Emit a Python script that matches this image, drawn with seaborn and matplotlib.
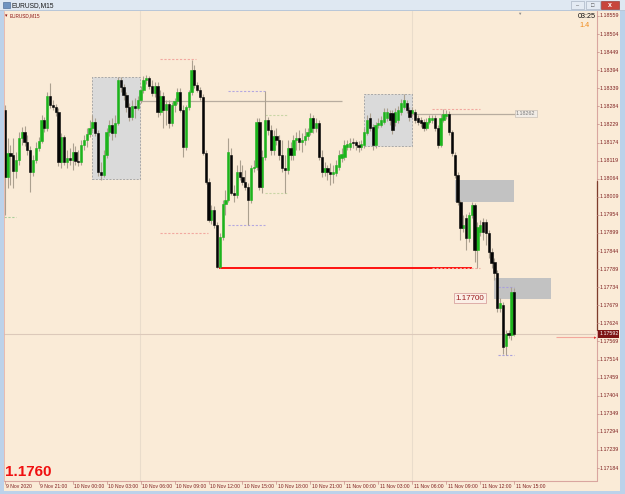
import numpy as np
import matplotlib
matplotlib.use("Agg")
import matplotlib.pyplot as plt
import matplotlib.transforms as mtransforms
from matplotlib.patches import Rectangle
import seaborn as sns

# ---------------- data (EURUSD M15) ----------------
opens = [
    1.18273, 1.18069, 1.18142, 1.18136, 1.18087, 1.18121, 1.18188, 1.18206, 1.18176, 1.18151,
    1.18084, 1.18121, 1.18157, 1.18179, 1.18243, 1.18218, 1.18316, 1.18288, 1.18282, 1.18267,
    1.18115, 1.18191, 1.18115, 1.18127, 1.18121, 1.18145, 1.18118, 1.18115, 1.18167, 1.18182,
    1.18200, 1.18218, 1.18237, 1.18203, 1.18084, 1.18075, 1.18136, 1.18206, 1.18227, 1.18203,
    1.18234, 1.18364, 1.18343, 1.18319, 1.18282, 1.18252, 1.18285, 1.18279, 1.18303, 1.18334,
    1.18364, 1.18370, 1.18346, 1.18325, 1.18346, 1.18267, 1.18316, 1.18273, 1.18291, 1.18234,
    1.18288, 1.18300, 1.18328, 1.18273, 1.18160, 1.18282, 1.18328, 1.18395, 1.18349, 1.18334,
    1.18313, 1.18142, 1.18054, 1.17938, 1.17969, 1.17923, 1.17795, 1.17887, 1.17987, 1.17999,
    1.18136, 1.18021, 1.18015, 1.18084, 1.18069, 1.18054, 1.18039, 1.17999, 1.18097, 1.18100,
    1.18237, 1.18039, 1.18130, 1.18243, 1.18212, 1.18151, 1.18194, 1.18182, 1.18136, 1.18097,
    1.18091, 1.18157, 1.18136, 1.18182, 1.18188, 1.18176, 1.18182, 1.18194, 1.18206, 1.18249,
    1.18218, 1.18234, 1.18130, 1.18084, 1.18097, 1.18084, 1.18078, 1.18081, 1.18100, 1.18127,
    1.18130, 1.18160, 1.18160, 1.18176, 1.18176, 1.18167, 1.18160, 1.18167, 1.18203, 1.18249,
    1.18221, 1.18167, 1.18227, 1.18227, 1.18237, 1.18249, 1.18264, 1.18264, 1.18237, 1.18243,
    1.18267, 1.18282, 1.18294, 1.18273, 1.18264, 1.18267, 1.18249, 1.18243, 1.18237, 1.18218,
    1.18237, 1.18243, 1.18249, 1.18218, 1.18167, 1.18243, 1.18255, 1.18261, 1.18206, 1.18136,
    1.18075, 1.17993, 1.17914, 1.17945, 1.17884, 1.17954, 1.17984, 1.17847, 1.17902, 1.17932,
    1.17932, 1.17899, 1.17841, 1.17811, 1.17777, 1.17671, 1.17680, 1.17555, 1.17595, 1.17589,
    1.17719,
]
highs = [
    1.18288, 1.18188, 1.18167, 1.18188, 1.18145, 1.18206, 1.18221, 1.18224, 1.18197, 1.18164,
    1.18136, 1.18176, 1.18191, 1.18258, 1.18252, 1.18328, 1.18355, 1.18303, 1.18291, 1.18279,
    1.18203, 1.18197, 1.18151, 1.18157, 1.18173, 1.18164, 1.18151, 1.18182, 1.18197, 1.18218,
    1.18243, 1.18258, 1.18249, 1.18212, 1.18115, 1.18151, 1.18218, 1.18243, 1.18249, 1.18258,
    1.18373, 1.18373, 1.18352, 1.18328, 1.18294, 1.18303, 1.18310, 1.18316, 1.18346, 1.18376,
    1.18380, 1.18376, 1.18364, 1.18358, 1.18358, 1.18334, 1.18328, 1.18303, 1.18303, 1.18297,
    1.18310, 1.18340, 1.18340, 1.18288, 1.18288, 1.18334, 1.18425, 1.18410, 1.18358, 1.18343,
    1.18322, 1.18151, 1.18066, 1.17984, 1.17981, 1.17932, 1.17899, 1.17999, 1.18030, 1.18188,
    1.18157, 1.18045, 1.18106, 1.18121, 1.18106, 1.18091, 1.18051, 1.18106, 1.18121, 1.18249,
    1.18249, 1.18151, 1.18331, 1.18252, 1.18227, 1.18212, 1.18218, 1.18197, 1.18182, 1.18136,
    1.18182, 1.18176, 1.18197, 1.18206, 1.18212, 1.18203, 1.18218, 1.18218, 1.18264, 1.18258,
    1.18249, 1.18243, 1.18151, 1.18115, 1.18106, 1.18112, 1.18106, 1.18121, 1.18151, 1.18157,
    1.18182, 1.18182, 1.18188, 1.18188, 1.18182, 1.18179, 1.18182, 1.18218, 1.18258, 1.18264,
    1.18230, 1.18237, 1.18249, 1.18255, 1.18279, 1.18279, 1.18273, 1.18273, 1.18279, 1.18285,
    1.18307, 1.18322, 1.18303, 1.18282, 1.18282, 1.18276, 1.18258, 1.18252, 1.18246, 1.18249,
    1.18258, 1.18258, 1.18258, 1.18227, 1.18261, 1.18276, 1.18273, 1.18270, 1.18212, 1.18145,
    1.18084, 1.17999, 1.17954, 1.17957, 1.17963, 1.17993, 1.17990, 1.17932, 1.17938, 1.17945,
    1.17942, 1.17908, 1.17853, 1.17823, 1.17786, 1.17701, 1.17689, 1.17604, 1.17604, 1.17735,
    1.17732,
]
lows = [
    1.17954, 1.18036, 1.18045, 1.18036, 1.18066, 1.18106, 1.18167, 1.18164, 1.18136, 1.18024,
    1.18072, 1.18112, 1.18148, 1.18173, 1.18206, 1.18209, 1.18279, 1.18273, 1.18255, 1.18103,
    1.18097, 1.18106, 1.18097, 1.18106, 1.18091, 1.18106, 1.18103, 1.18106, 1.18151, 1.18160,
    1.18191, 1.18209, 1.18194, 1.18072, 1.18060, 1.18069, 1.18127, 1.18194, 1.18182, 1.18191,
    1.18227, 1.18328, 1.18303, 1.18267, 1.18240, 1.18243, 1.18249, 1.18273, 1.18294, 1.18325,
    1.18352, 1.18337, 1.18316, 1.18313, 1.18252, 1.18258, 1.18218, 1.18227, 1.18218, 1.18224,
    1.18267, 1.18291, 1.18267, 1.18130, 1.18151, 1.18273, 1.18319, 1.18340, 1.18328, 1.18303,
    1.18136, 1.18048, 1.17932, 1.17926, 1.17914, 1.17792, 1.17792, 1.17878, 1.17954, 1.17993,
    1.18015, 1.17993, 1.18005, 1.18060, 1.18045, 1.18030, 1.17923, 1.17990, 1.18084, 1.18091,
    1.18030, 1.18021, 1.18121, 1.18197, 1.18136, 1.18136, 1.18167, 1.18121, 1.18084, 1.18021,
    1.18078, 1.18121, 1.18121, 1.18151, 1.18151, 1.18145, 1.18167, 1.18182, 1.18197, 1.18203,
    1.18206, 1.18121, 1.18069, 1.18072, 1.18060, 1.18045, 1.18051, 1.18072, 1.18091, 1.18115,
    1.18121, 1.18151, 1.18151, 1.18157, 1.18151, 1.18145, 1.18151, 1.18157, 1.18197, 1.18209,
    1.18151, 1.18157, 1.18218, 1.18221, 1.18230, 1.18240, 1.18227, 1.18200, 1.18224, 1.18234,
    1.18258, 1.18276, 1.18264, 1.18240, 1.18255, 1.18234, 1.18227, 1.18221, 1.18209, 1.18212,
    1.18230, 1.18234, 1.18209, 1.18157, 1.18160, 1.18237, 1.18246, 1.18197, 1.18133, 1.18066,
    1.17984, 1.17878, 1.17902, 1.17847, 1.17872, 1.17945, 1.17811, 1.17792, 1.17890, 1.17878,
    1.17862, 1.17823, 1.17792, 1.17756, 1.17659, 1.17659, 1.17531, 1.17528, 1.17580, 1.17573,
    1.17586,
]
closes = [
    1.18069, 1.18142, 1.18133, 1.18087, 1.18121, 1.18188, 1.18206, 1.18176, 1.18151, 1.18084,
    1.18121, 1.18157, 1.18179, 1.18243, 1.18218, 1.18316, 1.18288, 1.18282, 1.18267, 1.18115,
    1.18191, 1.18115, 1.18127, 1.18121, 1.18145, 1.18118, 1.18115, 1.18167, 1.18182, 1.18200,
    1.18218, 1.18237, 1.18203, 1.18084, 1.18075, 1.18136, 1.18206, 1.18227, 1.18203, 1.18234,
    1.18364, 1.18343, 1.18319, 1.18282, 1.18252, 1.18285, 1.18279, 1.18303, 1.18334, 1.18364,
    1.18370, 1.18346, 1.18325, 1.18346, 1.18267, 1.18316, 1.18273, 1.18291, 1.18234, 1.18288,
    1.18300, 1.18328, 1.18273, 1.18160, 1.18282, 1.18328, 1.18395, 1.18349, 1.18334, 1.18313,
    1.18142, 1.18054, 1.17938, 1.17969, 1.17923, 1.17795, 1.17887, 1.17987, 1.17999, 1.18145,
    1.18021, 1.18015, 1.18084, 1.18069, 1.18054, 1.18039, 1.17999, 1.18097, 1.18100, 1.18237,
    1.18039, 1.18130, 1.18243, 1.18212, 1.18151, 1.18194, 1.18182, 1.18136, 1.18097, 1.18091,
    1.18157, 1.18136, 1.18182, 1.18188, 1.18176, 1.18182, 1.18194, 1.18206, 1.18249, 1.18218,
    1.18234, 1.18130, 1.18084, 1.18097, 1.18084, 1.18078, 1.18084, 1.18106, 1.18136, 1.18139,
    1.18167, 1.18170, 1.18173, 1.18173, 1.18167, 1.18160, 1.18170, 1.18206, 1.18243, 1.18218,
    1.18167, 1.18227, 1.18234, 1.18243, 1.18267, 1.18267, 1.18243, 1.18212, 1.18267, 1.18273,
    1.18294, 1.18303, 1.18273, 1.18252, 1.18273, 1.18243, 1.18237, 1.18234, 1.18218, 1.18237,
    1.18249, 1.18249, 1.18218, 1.18167, 1.18249, 1.18261, 1.18261, 1.18206, 1.18142, 1.18075,
    1.17993, 1.17914, 1.17923, 1.17884, 1.17954, 1.17984, 1.17847, 1.17917, 1.17923, 1.17902,
    1.17899, 1.17841, 1.17808, 1.17777, 1.17671, 1.17686, 1.17552, 1.17592, 1.17589, 1.17719,
    1.17592,
]

price_ticks = [1.18559, 1.18504, 1.18449, 1.18394, 1.18339, 1.18284, 1.18229, 1.18174,
               1.18119, 1.18064, 1.18009, 1.17954, 1.17899, 1.17844, 1.17789, 1.17734,
               1.17679, 1.17624, 1.17569, 1.17514, 1.17459, 1.17404, 1.17349, 1.17294,
               1.17239, 1.17184]
time_labels = ["9 Nov 2020", "9 Nov 21:00", "10 Nov 00:00", "10 Nov 03:00", "10 Nov 06:00",
               "10 Nov 09:00", "10 Nov 12:00", "10 Nov 15:00", "10 Nov 18:00", "10 Nov 21:00",
               "11 Nov 00:00", "11 Nov 03:00", "11 Nov 06:00", "11 Nov 09:00", "11 Nov 12:00",
               "11 Nov 15:00"]
time_label_bars = [0, 12, 24, 36, 48, 60, 72, 84, 96, 108, 120, 132, 144, 156, 168, 180]

bid_price = 1.17592

# zones (bar start, bar end, top price, bottom price)
zone_x0 = [30.85, 127.0, 159.1, 172.9]
zone_x1 = [47.8, 144.0, 180.0, 193.0]
zone_top = [1.18373, 1.18322, 1.18060, 1.17762]
zone_bottom = [1.18063, 1.18164, 1.17993, 1.17698]

# horizontal levels (price, bar start, bar end)
level_price = [1.18301, 1.18262, 1.18277, 1.17792, 1.17792, 1.18428, 1.17899,
               1.18331, 1.17923, 1.18258, 1.18021, 1.17948, 1.17735, 1.17528, 1.17582]
level_x0 = [47.8, 143.9, 151.0, 75.7, 151.0, 54.9, 54.9, 78.9, 78.9, 92.0, 92.0, -0.3,
            174.3, 174.3, 194.8]
level_x1 = [119.2, 180.3, 168.0, 165.1, 168.0, 67.6, 71.8, 92.0, 92.0, 100.1, 99.8, 4.0,
            180.0, 180.0, 209.0]
level_tag_price = 1.18262
sr_label_price = 1.17700
sr_label_bar = 159.3
big_label = "1.1760"

# ---------------- styling ----------------
sns.set_theme(style="white")
plt.rcParams['font.family'] = ['Liberation Sans', 'DejaVu Sans']

W, H = 625, 494
BG = '#FAEBD7'
fig = plt.figure(figsize=(W / 100, H / 100), dpi=100, facecolor=BG)


def fx(px):
    return px / W


def fy(py):
    return 1 - py / H


def frect(x0, y0, x1, y1, **kw):
    fig.patches.append(Rectangle((fx(x0), fy(y1)), fx(x1) - fx(x0), fy(y0) - fy(y1),
                                 transform=fig.transFigure, **kw))


ax = fig.add_axes([fx(4), fy(481), fx(596) - fx(4), fy(11) - fy(481)])
ax.set_xlim(-0.25, 208.9)
ax.set_ylim(1.171445, 1.185742)
ax.set_axis_off()

o = np.array(opens)
h = np.array(highs)
l = np.array(lows)
c = np.array(closes)
x = np.arange(len(o))

# zones
zone_face = ['#DADADA', '#DADADA', '#C2C2C2', '#C2C2C2']
zone_edge = ['#A8A8A8', '#A8A8A8', 'none', 'none']
for i in range(len(zone_x0)):
    ax.add_patch(Rectangle((zone_x0[i], zone_bottom[i]), zone_x1[i] - zone_x0[i],
                           zone_top[i] - zone_bottom[i], facecolor=zone_face[i],
                           edgecolor=zone_edge[i], lw=0.7, ls=(0, (2, 1.5)), zorder=1))
# faint vertical edges of the zones
ax.axvline(zone_x1[0], color='#E9DCCB', lw=0.8, zorder=0.5)
ax.axvline(zone_x1[1], color='#E9DCCB', lw=0.8, zorder=0.5)

# bid line
ax.axhline(bid_price, color='#DCC9BA', lw=0.8, zorder=0.6)

# levels
lv_color = ['#B7AC9F', '#B7AC9F', '#F2A8A0', '#FF0000', '#F2A8A0', '#F2A8A0', '#F2A8A0',
            '#B4A8E0', '#B4A8E0', '#C9D6A6', '#C9D6A6', '#A9CF9A', '#A9A0DD', '#A9A0DD', '#F3A79C']
lv_style = ['-', '-', (0, (2, 1.5)), '-', (0, (2, 1.5)), (0, (2, 1.5)), (0, (2, 1.5)),
            (0, (2, 1.5)), (0, (2, 1.5)), (0, (2, 1.5)), (0, (2, 1.5)), (0, (2, 1.5)),
            (0, (2, 1.5)), (0, (2, 1.5)), '-']
lv_width = [0.9, 0.9, 0.8, 1.3, 0.8, 0.8, 0.8, 0.8, 0.8, 0.8, 0.8, 0.8, 0.8, 0.8, 0.8]
for i in range(len(level_price)):
    ax.hlines(level_price[i], level_x0[i], level_x1[i], colors=lv_color[i],
              linestyles=lv_style[i], lw=lv_width[i], zorder=2)

# candles
ax.vlines(x, l, h, colors='#ABA08F', lw=0.8, zorder=3)
bull = c >= o
ax.bar(x[bull], c[bull] - o[bull], bottom=o[bull], width=0.8, color='#1CB41C',
       edgecolor='#1CB41C', lw=0.4, zorder=4)
ax.bar(x[~bull], o[~bull] - c[~bull], bottom=c[~bull], width=0.8, color='#050505',
       edgecolor='#050505', lw=0.4, zorder=4)

# level tag and SR label
ax.text(180.6, level_tag_price, f"{level_tag_price:.5f}", fontsize=3.9, color='#7A7A7A',
        va='center', ha='left', zorder=6,
        bbox=dict(boxstyle='square,pad=0.25', fc='#F1ECE6', ec='#C9C0B6', lw=0.5))
ax.text(sr_label_bar, sr_label_price, f"{sr_label_price:.5f}", fontsize=5.8, color='#9C1C1C',
        va='center', ha='left', zorder=6,
        bbox=dict(boxstyle='square,pad=0.2', fc='#FBEFE6', ec='#D9A3A0', lw=0.6))

# ---------------- frame / axes decorations ----------------
bl = mtransforms.blended_transform_factory(fig.transFigure, ax.transData)
bx = mtransforms.blended_transform_factory(ax.transData, fig.transFigure)

# price axis separator
fig.add_artist(plt.Line2D([fx(596.5), fx(596.5)], [fy(481), fy(11)], transform=fig.transFigure,
                          color='#D9A6A0', lw=0.8))
fig.add_artist(plt.Line2D([fx(596.5), fx(596.5)], [1.18057, 1.17604], transform=bl,
                          color='#7E3B2C', lw=0.9))
# bottom separator
fig.add_artist(plt.Line2D([fx(4), fx(596.5)], [fy(481), fy(481)], transform=fig.transFigure,
                          color='#D9A6A0', lw=0.8))
fig.add_artist(plt.Line2D([fx(4.3), fx(4.3)], [fy(481), fy(11)], transform=fig.transFigure,
                          color='#E4B3AA', lw=0.6))

for p in price_ticks:
    fig.add_artist(plt.Line2D([fx(596.5), fx(598.5)], [p, p], transform=bl, color='#C58F88', lw=0.5))
    fig.text(fx(599.3), p, f"{p:.5f}", transform=bl, fontsize=3.8, color='#7E1F1F',
             va='center', ha='left')
# current price label
fig.patches.append(Rectangle((fx(597.5), bid_price - 0.000118), fx(619) - fx(597.5), 0.000236,
                             transform=bl, facecolor='#7D1414', edgecolor='none', zorder=5))
fig.text(fx(599.3), bid_price, f"{bid_price:.5f}", transform=bl, fontsize=3.8, color='white',
         va='center', ha='left', zorder=6)
fig.text(fx(596.8), bid_price - 0.00012, "\u25b8", transform=bl, fontsize=3.5, color='#E03030',
         va='center', ha='right')

for b, s in zip(time_label_bars, time_labels):
    fig.add_artist(plt.Line2D([b, b], [fy(481), fy(484)], transform=bx, color='#C58F88', lw=0.5))
    fig.text(b + 0.5, fy(486.5), s, transform=bx, fontsize=3.6, color='#7E1F1F',
             va='center', ha='left')

# big red text bottom-left
fig.text(fx(4.5), fy(472.5), big_label, fontsize=11, fontweight='bold', color='#F01010',
         va='center', ha='left')

# top chart info
fig.text(fx(5), fy(15.5), "\u25be", fontsize=3.5, color='#8B1010', va='center', ha='left')
fig.text(fx(10), fy(15.5), "EURUSD,M15", fontsize=3.4, color='#8B1010', va='center', ha='left')
fig.text(fx(595.5), fy(17), "03:25", fontsize=5.2, color='#101010', va='center', ha='right')
fig.text(fx(590), fy(25.5), "1.4", fontsize=5.2, color='#F08A1C', va='center', ha='right')
fig.text(fx(519), fy(14), "\u25bc", fontsize=3.2, color='#8C8C8C', va='center', ha='center')

# window frame
frect(0, 0, 4, H, facecolor='#BCD2EA', edgecolor='none', zorder=10)
frect(619.5, 0, W, H, facecolor='#BCD2EA', edgecolor='none', zorder=10)
frect(0, 490.5, W, H, facecolor='#BCD2EA', edgecolor='none', zorder=10)
frect(0, 0, W, 11, facecolor='#DFE8F2', edgecolor='none', zorder=10)
frect(0, 10.5, W, 11.2, facecolor='#B9C7D8', edgecolor='none', zorder=11)
frect(3, 2, 9.5, 8.5, facecolor='#6F93C0', edgecolor='#3F5F8C', lw=0.4, zorder=11)
fig.text(fx(11.5), fy(5.6), "EURUSD,M15", fontsize=4.8, color='#1A1A1A', va='center',
         ha='left', zorder=12)
frect(571, 1.5, 584, 9, facecolor='#E4EBF3', edgecolor='#9DAABA', lw=0.4, zorder=11)
frect(586, 1.5, 600, 9, facecolor='#E4EBF3', edgecolor='#9DAABA', lw=0.4, zorder=11)
frect(601, 1.5, 619, 9, facecolor='#C8463C', edgecolor='#8E2B24', lw=0.4, zorder=11)
fig.text(fx(577.5), fy(5.8), "\u2013", fontsize=4, color='#4A4A4A', va='center', ha='center', zorder=12)
fig.text(fx(593), fy(5.2), "\u25a1", fontsize=4, color='#4A4A4A', va='center', ha='center', zorder=12)
fig.text(fx(610), fy(5.2), "x", fontsize=5, fontweight='bold', color='white', va='center',
         ha='center', zorder=12)

fig.savefig("out.png", dpi=100, facecolor=BG)
